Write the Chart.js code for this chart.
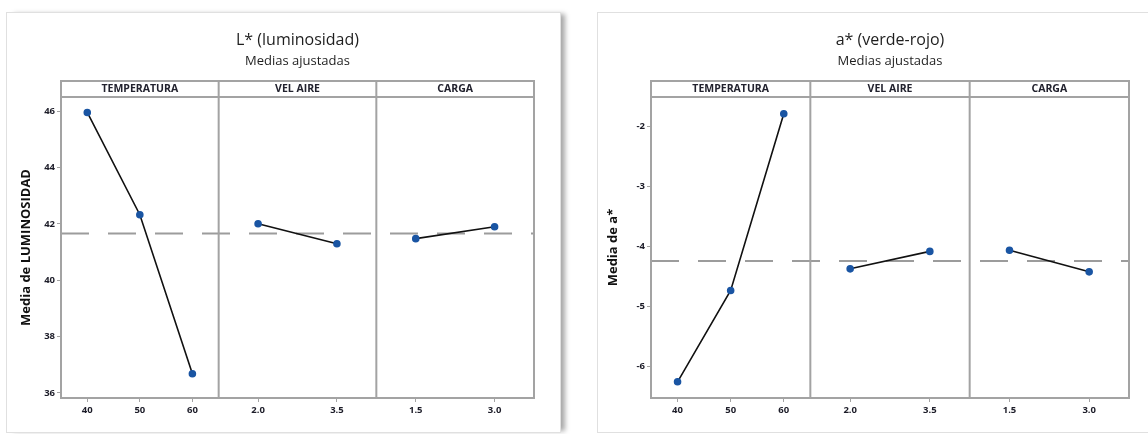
<!DOCTYPE html>
<html>
<head>
<meta charset="utf-8">
<script src="https://cdn.jsdelivr.net/npm/chart.js@4.4.1/dist/chart.umd.min.js"></script>
<style>
  body { margin: 0; background: #fff; width: 1148px; height: 434px; overflow: hidden; position: relative; }
  .card { position: absolute; top: 12px; background: #fff; border: 1px solid #e0e0e0; box-sizing: border-box; }
  #cardL { left: 6px; width: 555px; height: 421px; box-shadow: 6px 0 5px -2px rgba(0,0,0,0.35); }
  #cardR { left: 597px; width: 570px; height: 421px; }
  canvas { position: absolute; top: 12px; }
  #chartL { left: 6px; }
  #chartR { left: 597px; }
</style>
</head>
<body>
<div class="card" id="cardL"></div>
<div class="card" id="cardR"></div>
<canvas id="chartL" width="554" height="422"></canvas>
<canvas id="chartR" width="551" height="422"></canvas>
<script>
// factors and their levels
var factors = ['TEMPERATURA', 'VEL AIRE', 'CARGA'];
var tempLevels = ['40', '50', '60'];
var velLevels = ['2.0', '3.5'];
var cargaLevels = ['1.5', '3.0'];

// L* (luminosidad) fitted means
var lumTemp = [45.96, 42.33, 36.68];
var lumVel = [42.01, 41.30];
var lumCarga = [41.48, 41.90];
var lumMean = 41.66;
var lumTicks = [36, 38, 40, 42, 44, 46];

// a* (verde-rojo) fitted means
var aTemp = [-6.25, -4.73, -1.79];
var aVel = [-4.37, -4.08];
var aCarga = [-4.06, -4.42];
var aMean = -4.24;
var aTicks = [-6, -5, -4, -3, -2];

var FONT = '"Open Sans", "Noto Sans", sans-serif';
var FRAME = '#a3a3a3';

//--------------------------------------------------------------------
// * frame, strips, dividers and the dashed mean line
//--------------------------------------------------------------------
var framePlugin = {
    id: 'frame',
    beforeDatasetsDraw: function(chart, args, opts) {
        var ctx = chart.ctx;
        var a = chart.chartArea;
        var top = a.top - 16;
        ctx.save();

        var yMean = chart.scales.y.getPixelForValue(opts.mean);
        ctx.strokeStyle = '#9c9c9c';
        ctx.lineWidth = 2;
        ctx.setLineDash([28, 19]);
        ctx.beginPath();
        ctx.moveTo(a.left, yMean);
        ctx.lineTo(a.right, yMean);
        ctx.stroke();
        ctx.setLineDash([]);

        ctx.strokeStyle = FRAME;
        ctx.lineWidth = 2;
        ctx.strokeRect(a.left, top, a.right - a.left, a.bottom - top);
        ctx.beginPath();
        ctx.moveTo(a.left, a.top);
        ctx.lineTo(a.right, a.top);
        ['x1', 'x2'].forEach(function(id) {
            var x = chart.scales[id].left;
            ctx.moveTo(x, top);
            ctx.lineTo(x, a.bottom);
        });
        ctx.stroke();

        ctx.fillStyle = '#22222e';
        ctx.font = '700 10.5px ' + FONT;
        ctx.textAlign = 'center';
        ctx.textBaseline = 'middle';
        ['x0', 'x1', 'x2'].forEach(function(id, i) {
            var s = chart.scales[id];
            ctx.fillText(factors[i], (s.left + s.right) / 2, top + 8.5);
        });
        ctx.restore();
    }
};

function xAxis(levels) {
    return {
        type: 'category',
        labels: levels,
        position: 'bottom',
        stack: 'panels',
        offset: true,
        border: { display: false },
        grid: { display: true, drawOnChartArea: false, tickLength: 4, color: FRAME },
        ticks: { padding: 3, color: '#1c1c28', font: { family: FONT, size: 9.5, weight: '700' } },
        afterFit: function(scale) { scale.height = 30; }
    };
}

function makeChart(id, title, yTitle, vals, mean, ticks, yMin, yMax, pad) {
    var ctx = document.getElementById(id).getContext('2d');
    var sets = [
        { data: vals[0], xAxisID: 'x0' },
        { data: vals[1], xAxisID: 'x1' },
        { data: vals[2], xAxisID: 'x2' }
    ];
    sets.forEach(function(d) {
        d.yAxisID = 'y';
        d.borderColor = '#111';
        d.borderWidth = 1.6;
        d.pointRadius = 3;
        d.pointBackgroundColor = '#1a55a3';
        d.pointBorderColor = '#1a55a3';
        d.tension = 0;
    });
    return new Chart(ctx, {
        type: 'line',
        data: { datasets: sets },
        plugins: [framePlugin],
        options: {
            responsive: false,
            animation: false,
            layout: { padding: { left: 5, right: pad.right, top: 0, bottom: 6 } },
            plugins: {
                legend: { display: false },
                tooltip: { enabled: false },
                frame: { mean: mean },
                title: {
                    display: true, text: title, fullSize: false, color: '#1e1e1e',
                    font: { family: FONT, size: 16, weight: 'normal' },
                    padding: { top: 19, bottom: 0 }
                },
                subtitle: {
                    display: true, text: 'Medias ajustadas', fullSize: false, color: '#1e1e1e',
                    font: { family: FONT, size: 13, weight: 'normal' },
                    padding: { top: 3, bottom: 28.2 }
                }
            },
            scales: {
                x0: xAxis(tempLevels),
                x1: xAxis(velLevels),
                x2: xAxis(cargaLevels),
                y: {
                    type: 'linear',
                    position: 'left',
                    min: yMin,
                    max: yMax,
                    border: { display: false },
                    grid: { display: true, drawOnChartArea: false, tickLength: 4, color: FRAME },
                    ticks: { padding: 2, color: '#1c1c28', font: { family: FONT, size: 9.5, weight: '700' } },
                    title: {
                        display: true, text: yTitle, color: '#111',
                        font: { family: FONT, size: 13, weight: 'bold' },
                        padding: { top: pad.title, bottom: 0 }
                    },
                    afterBuildTicks: function(scale) {
                        scale.ticks = ticks.map(function(v) { return { value: v }; });
                    },
                    afterFit: function(scale) { scale.width = pad.yWidth; }
                }
            }
        }
    });
}

makeChart('chartL', 'L* (luminosidad)', 'Media de LUMINOSIDAD',
    [lumTemp, lumVel, lumCarga], lumMean, lumTicks, 35.82, 46.51,
    { right: 26, yWidth: 50, title: 7 });

makeChart('chartR', 'a* (verde-rojo)', 'Media de a*',
    [aTemp, aVel, aCarga], aMean, aTicks, -6.52, -1.51,
    { right: 19, yWidth: 49, title: 3 });
</script>
</body>
</html>
